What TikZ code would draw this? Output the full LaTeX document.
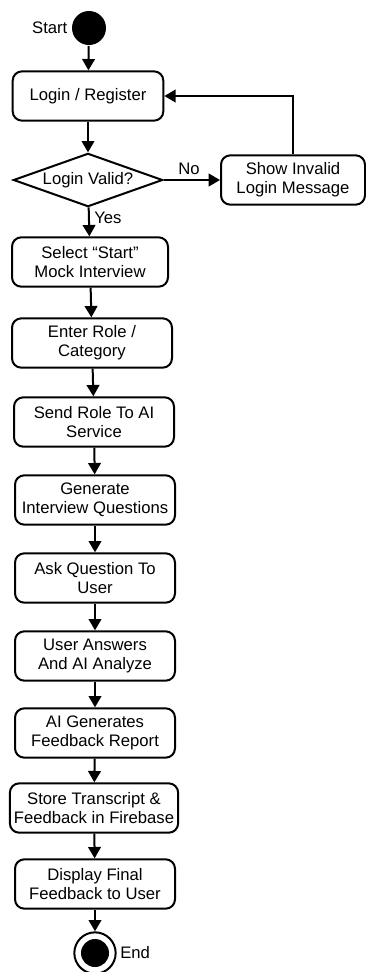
\documentclass[tikz,border=0pt]{standalone}
\usepackage{fontspec}
\setmainfont{Liberation Sans}
\usepackage{tikz}
\usetikzlibrary{arrows.meta,shapes.geometric}
\tikzset{act/.style={draw, rounded corners=7pt, line width=1.5pt, align=center, minimum width=120pt, minimum height=37pt, inner xsep=3pt},
  dec/.style={diamond, draw, line width=1.5pt, minimum width=112pt, minimum height=40pt, inner sep=0pt, aspect=2.8},
  init/.style={circle, fill, minimum size=25.5pt, inner sep=0pt},
  fin/.style={circle, draw, line width=1.5pt, minimum size=31pt, inner sep=0pt, path picture={\fill (path picture bounding box.center) circle (10.5pt);}},
  lab/.style={inner sep=2pt}}
\tikzset{every node/.style={font=\fontsize{12.5}{14.5}\selectfont}}

\begin{document}
\begin{tikzpicture}[x=0.75pt, y=-0.75pt, >={Triangle[width=9.5pt,length=8.5pt]}, line width=1.5pt]
  \useasboundingbox (0,0) rectangle (366,972);
  \node[init, label={[lab]left:Start}] (start) at (89,28) {};
  \node[act, minimum width=113pt] (login) at (88,96) {Login / Register};
  \node[dec] (valid) at (88,180) {Login Valid?};
  \node[act, minimum width=108pt] (invalid) at (293,180) {Show Invalid\\Login Message};
  \node[act, minimum width=117pt] (select) at (90,262) {Select “Start”\\Mock Interview};
  \node[act] (role) at (92,343) {Enter Role /\\Category};
  \node[act] (send) at (94,422) {Send Role To AI\\Service};
  \node[act] (generate) at (95,500) {Generate\\Interview Questions};
  \node[act] (ask) at (95,578) {Ask Question To\\User};
  \node[act] (answer) at (95,656) {User Answers\\And AI Analyze};
  \node[act] (report) at (95,733) {AI Generates\\Feedback Report};
  \node[act] (store) at (94,808) {Store Transcript \&\\Feedback in Firebase};
  \node[act] (display) at (95,884) {Display Final\\Feedback to User};
  \node[fin, label={[lab]right:End}] (stop) at (95,953) {};
  \draw[->] (start) edge (login)
  (login) edge (valid)
  (valid) edge node[above, pos=0.45] {No} (invalid)
  (valid) edge node[right, pos=0.35] {Yes} (select)
  (select) edge (role)
  (role) edge (send)
  (send) edge (generate)
  (generate) edge (ask)
  (ask) edge (answer)
  (answer) edge (report)
  (report) edge (store)
  (store) edge (display)
  (display) edge (stop);
  \draw[->] (invalid.north) |- (login.east);
\end{tikzpicture}
\end{document}
